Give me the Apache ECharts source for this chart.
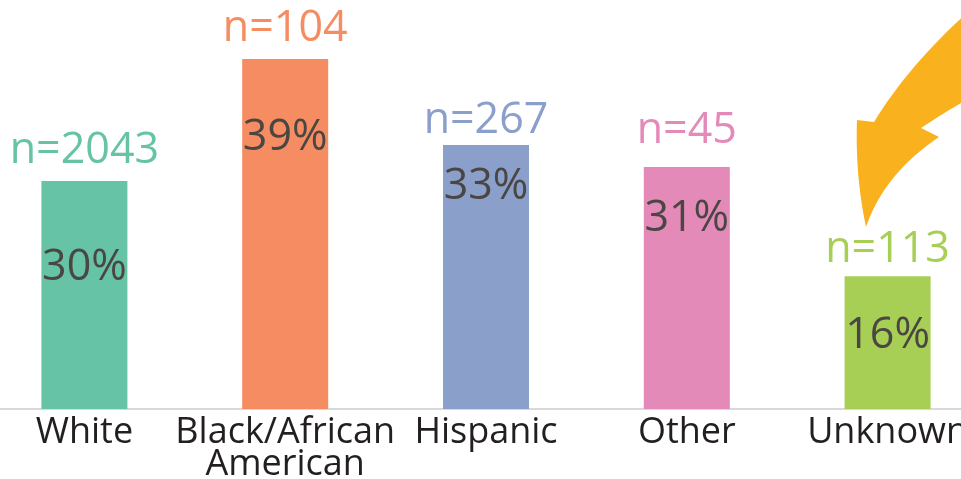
<!DOCTYPE html>
<html>
<head>
<meta charset="utf-8">
<script src="https://cdn.jsdelivr.net/npm/echarts@6/dist/echarts.min.js"></script>
<style>
  html, body { margin: 0; padding: 0; background: #fff; }
  #chart { width: 961px; height: 479px; }
</style>
</head>
<body>
<div id="chart"></div>
<script>
// data
const categories = ['White', 'Black/African\nAmerican', 'Hispanic', 'Other', 'Unknown'];
const sampleSizes = [2043, 104, 267, 45, 113];
const percents = [30, 39, 33, 31, 16];
// the drawn bars don't follow the printed % exactly, so keep their heights apart
const barHeights = [28.5, 43.75, 33, 30.25, 16.6];

// styling
const barColors = ['#66c3a5', '#f68c62', '#8b9fcb', '#e48ab9', '#a7cf55'];
const nLabelGap = [9, 9, 3, 15, 5];
const pctLabelDrop = [65, 57, 20, 30, 38];
const labelFont = '"Open Sans", "Noto Sans", sans-serif';

// curved arrow outline (decoration), made of straight and quadratic pieces
function quad(p0, c, p1, steps) {
    const pts = [];
    for (let k = 1; k <= steps; k++) {
        const t = k / steps, u = 1 - t;
        pts.push([u * u * p0[0] + 2 * u * t * c[0] + t * t * p1[0],
                  u * u * p0[1] + 2 * u * t * c[1] + t * t * p1[1]]);
    }
    return pts;
}
const arrowPoints = [[866, 227]]
    .concat(quad([866, 227], [855, 175], [857, 120], 16))
    .concat([[874, 122]])
    .concat(quad([874, 122], [908, 66], [968, 12], 16))
    .concat([[968, 99]])
    .concat(quad([968, 99], [942, 114], [921, 128], 8))
    .concat([[939, 137]])
    .concat(quad([939, 137], [884, 174], [866, 227], 16));

const chart = echarts.init(document.getElementById('chart'));

const topData = barHeights.map((v, i) => ({
    value: v,
    itemStyle: { color: barColors[i] },
    label: { color: barColors[i], distance: nLabelGap[i] }
}));

const pctData = barHeights.map((v, i) => ({
    value: v,
    label: { distance: pctLabelDrop[i] }
}));

const option = {
    animation: false,
    backgroundColor: '#fff',
    grid: { left: -16, right: -27, top: 9, bottom: 70, outerBoundsMode: 'none', containLabel: false },
    xAxis: {
        type: 'category',
        data: categories,
        axisTick: { show: false },
        axisLine: { lineStyle: { color: '#d9d9d9', width: 2 } },
        axisLabel: {
            interval: 0,
            margin: 8,
            color: '#231f20',
            fontSize: 36,
            lineHeight: 32,
            fontFamily: labelFont
        }
    },
    yAxis: {
        type: 'value',
        min: 0,
        max: 50,
        show: false
    },
    series: [
        {
            type: 'bar',
            data: topData,
            barWidth: 86,
            label: {
                show: true,
                position: 'top',
                fontSize: 43,
                lineHeight: 43,
                fontFamily: labelFont,
                formatter: p => 'n=' + sampleSizes[p.dataIndex]
            }
        },
        {
            type: 'bar',
            data: pctData,
            barWidth: 86,
            barGap: '-100%',
            itemStyle: { color: 'rgba(0,0,0,0)' },
            label: {
                show: true,
                position: 'insideTop',
                fontSize: 43,
                lineHeight: 43,
                color: '#4a4643',
                fontFamily: labelFont,
                formatter: p => percents[p.dataIndex] + '%'
            }
        }
    ],
    graphic: [
        {
            type: 'polygon',
            z: 100,
            shape: { points: arrowPoints },
            style: { fill: '#f9b21d' }
        }
    ]
};

chart.setOption(option);
</script>
</body>
</html>
